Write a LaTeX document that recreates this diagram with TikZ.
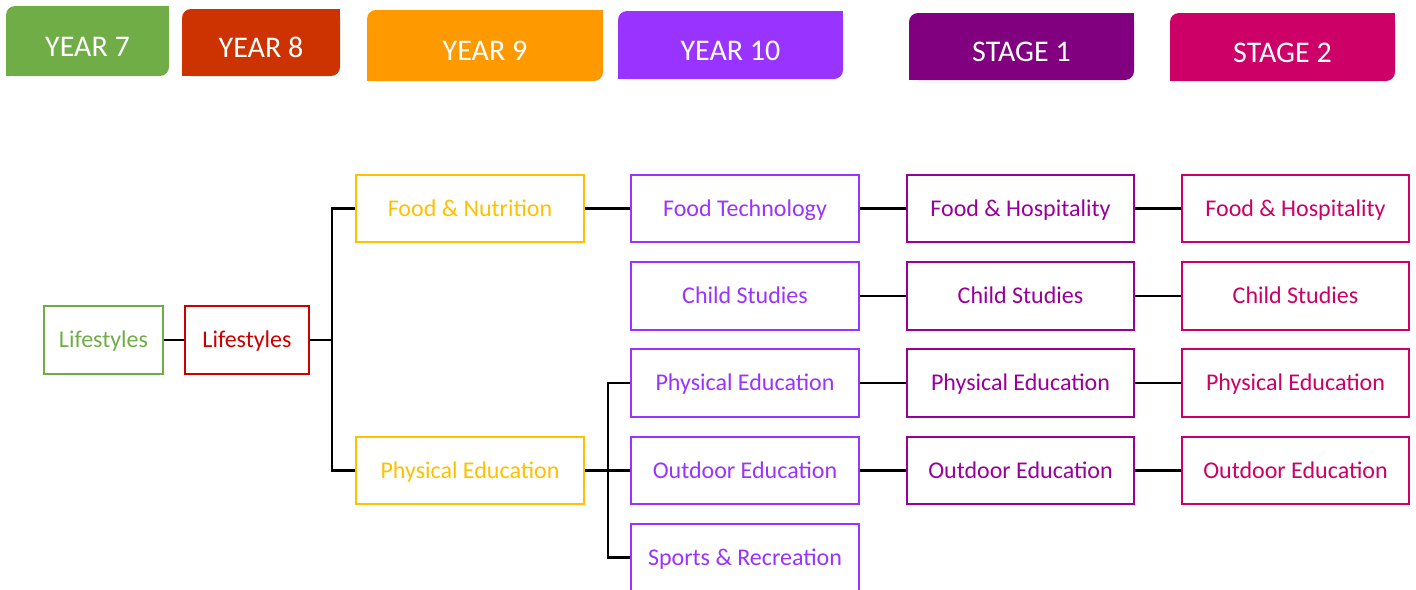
\documentclass[tikz,border=0pt]{standalone}
\usepackage{fontspec}
\setmainfont{Carlito}
\definecolor{cG}{HTML}{70AD47}
\definecolor{cR}{HTML}{CC3300}
\definecolor{cRt}{HTML}{CC0000}
\definecolor{cO}{HTML}{FF9900}
\definecolor{cY}{HTML}{FFC000}
\definecolor{cV}{HTML}{9933FF}
\definecolor{cP}{HTML}{800080}
\definecolor{cPb}{HTML}{990099}
\definecolor{cM}{HTML}{CC0066}
\tikzset{
  box/.style={draw=#1, text=#1, line width=2.3pt, minimum height=67.5pt, font=\fontsize{24}{28}\selectfont, inner sep=0pt, text height=15.5pt, text depth=0pt},
  conn/.style={draw=black, line width=2.4pt},
  tabtext/.style={text=white, font=\fontsize{30}{34}\selectfont, inner sep=0pt, text height=19.3pt, text depth=0pt}
}
\newcommand{\mytab}[7]{%
  \fill[#6, rounded corners=9pt] (#2,#3) rectangle (#4,#5);
  \fill[#6] (#4-12,#3) rectangle (#4,#3+12);
  \fill[#6] (#2,#5-12) rectangle (#2+12,#5);
  \node[tabtext] (#1) at ({(#2+#4)/2},{(#3+#5)/2+5.5}) {#7};
}
\begin{document}
\begin{tikzpicture}[x=1pt,y=-1pt]
\useasboundingbox (0,0) rectangle (1416,589);
% header tabs
\mytab{t7}{6}{6}{169}{76}{cG}{YEAR 7}
\mytab{t8}{182}{9}{340}{76}{cR}{YEAR 8}
\mytab{t9}{367}{10}{603}{81}{cO}{YEAR 9}
\mytab{t10}{618}{11}{843}{79}{cV}{YEAR 10}
\mytab{ts1}{909}{13}{1134}{80}{cP}{STAGE 1}
\mytab{ts2}{1170}{13}{1395}{81}{cM}{STAGE 2}
% boxes
\node[box=cG, minimum width=118.5pt] (y7) at (103.5,340) {Lifestyles};
\node[box=cRt, minimum width=123.5pt] (y8) at (247,340) {Lifestyles};
\node[box=cY, minimum width=227.5pt] (fn) at (470,208.5) {Food \& Nutrition};
\node[box=cY, minimum width=227.5pt] (pe9) at (470,470.5) {Physical Education};
\node[box=cV, minimum width=227.5pt] (ft10) at (745,208.5) {Food Technology};
\node[box=cV, minimum width=227.5pt] (cs10) at (745,296) {Child Studies};
\node[box=cV, minimum width=227.5pt] (pe10) at (745,383) {Physical Education};
\node[box=cV, minimum width=227.5pt] (oe10) at (745,470.5) {Outdoor Education};
\node[box=cV, minimum width=227.5pt] (sr10) at (745,557.5) {Sports \& Recreation};
\node[box=cPb, minimum width=227.5pt] (fh1) at (1020.5,208.5) {Food \& Hospitality};
\node[box=cPb, minimum width=227.5pt] (cs1) at (1020.5,296) {Child Studies};
\node[box=cPb, minimum width=227.5pt] (pe1) at (1020.5,383) {Physical Education};
\node[box=cPb, minimum width=227.5pt] (oe1) at (1020.5,470.5) {Outdoor Education};
\node[box=cM, minimum width=227.5pt] (fh2) at (1295.5,208.5) {Food \& Hospitality};
\node[box=cM, minimum width=227.5pt] (cs2) at (1295.5,296) {Child Studies};
\node[box=cM, minimum width=227.5pt] (pe2) at (1295.5,383) {Physical Education};
\node[box=cM, minimum width=227.5pt] (oe2) at (1295.5,470.5) {Outdoor Education};
% junctions
\coordinate (j1) at (332,340);
\coordinate (j2) at (608,470.5);
% connectors
\draw[conn] (y7.east) -- (y8.west);
\draw[conn] (y8.east) -- (j1);
\draw[conn] (j1) |- (fn.west);
\draw[conn] (j1) |- (pe9.west);
\draw[conn] (fn.east) -- (ft10.west);
\draw[conn] (pe9.east) -- (j2);
\draw[conn] (j2) |- (pe10.west);
\draw[conn] (j2) -- (oe10.west);
\draw[conn] (j2) |- (sr10.west);
\draw[conn] (ft10.east) -- (fh1.west);
\draw[conn] (cs10.east) -- (cs1.west);
\draw[conn] (pe10.east) -- (pe1.west);
\draw[conn] (oe10.east) -- (oe1.west);
\draw[conn] (fh1.east) -- (fh2.west);
\draw[conn] (cs1.east) -- (cs2.west);
\draw[conn] (pe1.east) -- (pe2.west);
\draw[conn] (oe1.east) -- (oe2.west);
\end{tikzpicture}
\end{document}
